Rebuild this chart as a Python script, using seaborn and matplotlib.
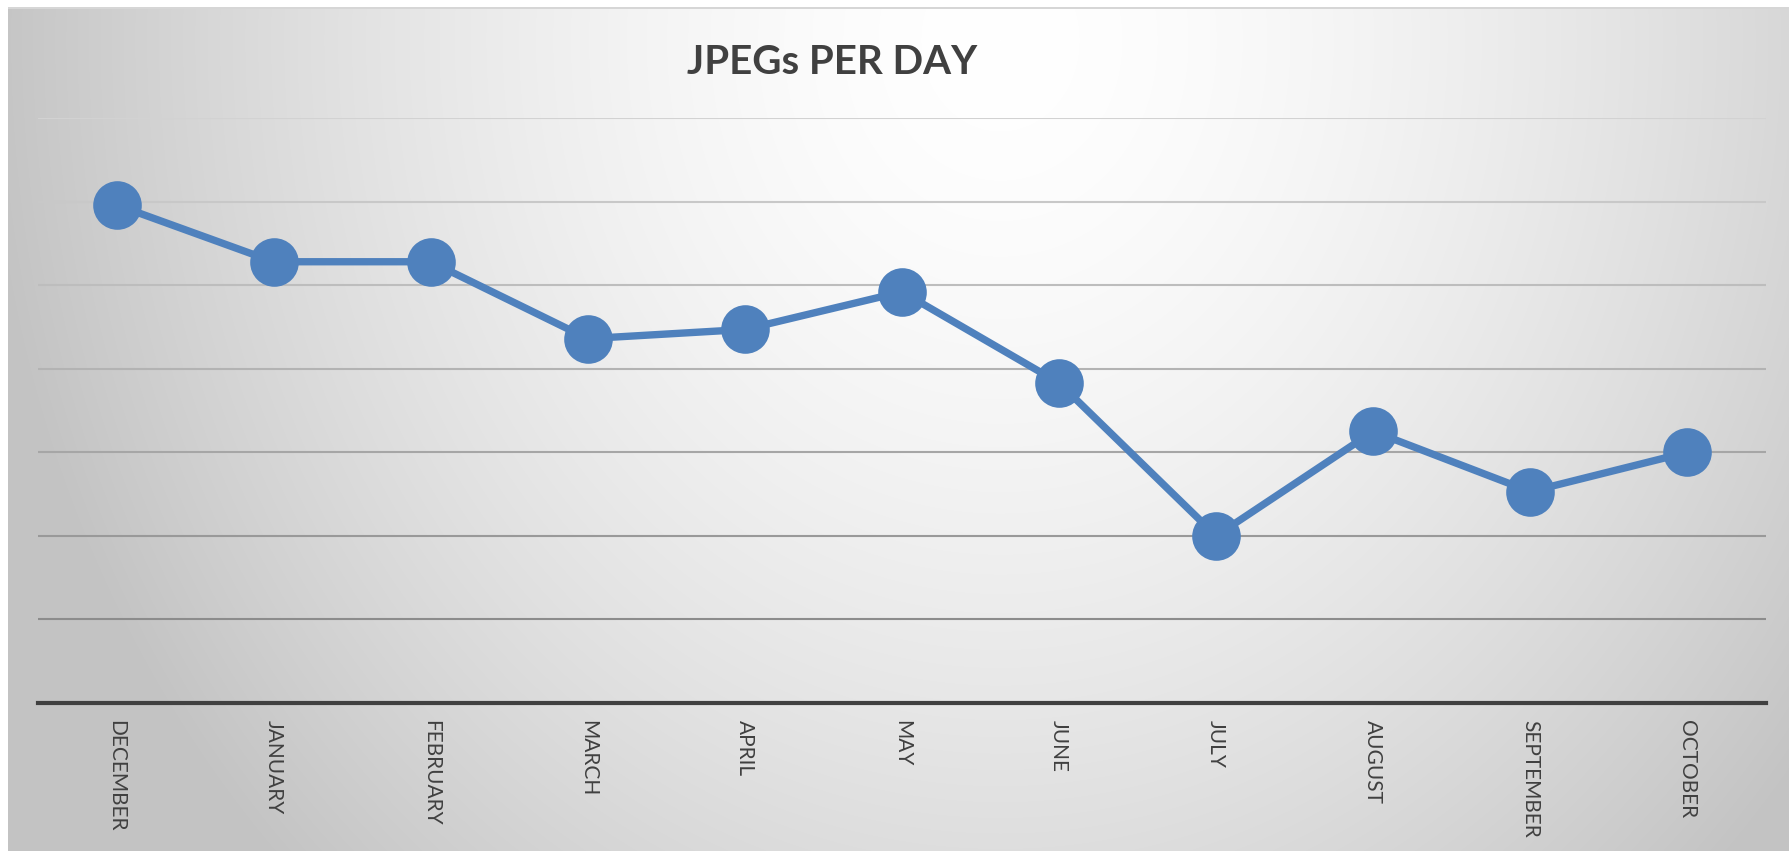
import numpy as np
import pandas as pd
import matplotlib
matplotlib.use("Agg")
import matplotlib.pyplot as plt
import seaborn as sns

# data (gridline units, no y labels shown)
months = ["DECEMBER", "JANUARY", "FEBRUARY", "MARCH", "APRIL", "MAY",
          "JUNE", "JULY", "AUGUST", "SEPTEMBER", "OCTOBER"]
jpegs = [5.96, 5.28, 5.28, 4.36, 4.47, 4.92, 3.83, 2.0, 3.25, 2.53, 3.0]
grid_levels = [1, 2, 3, 4, 5, 6, 7]
grid_colors = ["#8c8c8c", "#999999", "#a6a6a6", "#b3b3b3", "#bdbdbd", "#c8c8c8", "#d2d2d2"]

df = pd.DataFrame({"month": months, "jpegs": jpegs})

sns.set_theme(style="white")
plt.rcParams["font.family"] = ["Lato", "DejaVu Sans"]

W, H = 1789, 851
fig = plt.figure(figsize=(W / 100, H / 100), dpi=100)
fig.patch.set_facecolor("white")

# --- radial gradient background panel ---
bg = fig.add_axes([0, 0, 1, 1], zorder=0)
yy, xx = np.mgrid[0:H, 0:W]
r = np.sqrt(((xx - 1000) / 1000.0) ** 2 + ((yy - 40) / 1150.0) ** 2)
shade = np.clip(255 - 58 * r ** 1.6, 195, 255) / 255.0
img = np.dstack([shade, shade, shade])
img[:7, :, :] = 1.0
img[:, :8, :] = 1.0
img[7:9, 8:, :] = 0.84
bg.imshow(img, aspect="auto", interpolation="bilinear")
bg.set_axis_off()

# --- main chart ---
ax = fig.add_axes([38 / W, 1 - 703 / H, (1766 - 38) / W, (703 - 118) / H], zorder=1)
ax.set_facecolor("none")

for lvl, c in zip(grid_levels, grid_colors):
    ax.axhline(lvl, color=c, linewidth=1.5, zorder=1)

sns.lineplot(data=df, x="month", y="jpegs", sort=False, ax=ax,
             color="#4F81BD", linewidth=5.3, marker="o", markersize=35,
             markeredgewidth=0, zorder=3)

ax.set_xlim(-0.5, len(months) - 0.5)
ax.set_ylim(0, 7)
ax.set_yticks([])
ax.set_xlabel("")
ax.set_ylabel("")
for s in ["top", "right", "left"]:
    ax.spines[s].set_visible(False)
ax.spines["bottom"].set_color("#404040")
ax.spines["bottom"].set_linewidth(3)
ax.tick_params(axis="x", length=0, pad=12, labelsize=15, labelcolor="#404040",
               labelrotation=270)

fig.text(832 / W, 1 - 62 / H, "JPEGs PER DAY", ha="center", va="center",
         fontsize=29, fontweight="bold", color="#404040")

fig.savefig("out.png", dpi=100)
